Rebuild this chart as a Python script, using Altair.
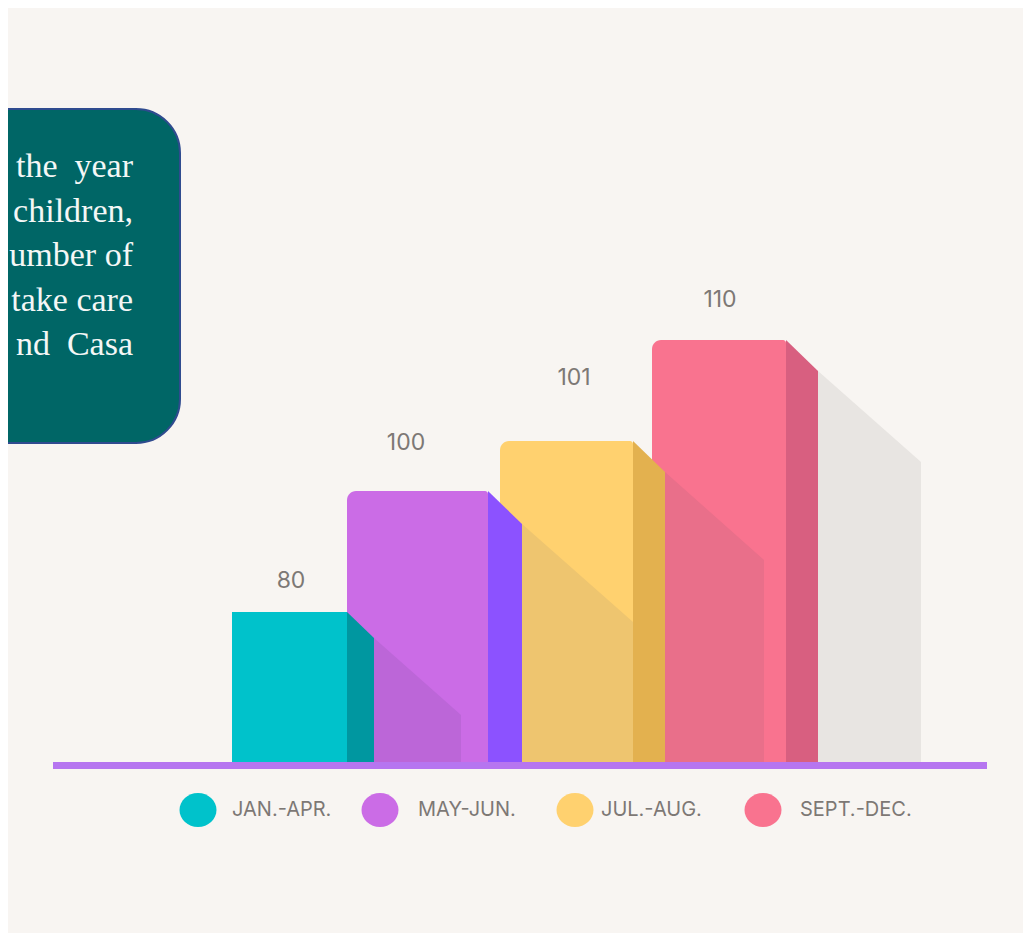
import altair as alt
import numpy as np
import pandas as pd

# ---------- chart values ----------
PERIODS = ["JAN.-APR.", "MAY-JUN.", "JUL.-AUG.", "SEPT.-DEC."]
VALUES = [80, 100, 101, 110]
NOTE_LINES = ["the\u00a0\u00a0year", "children,", "umber of", "take care", "nd\u00a0\u00a0Casa"]

# ---------- styles ----------
BG = "#F8F5F2"
FRONT = ["#00C2CB", "#CB6CE6", "#FFD16F", "#F9738F"]
SIDE = ["#0097A0", "#8C52FF", "#E3B14F", "#D85F80"]
SHADOW = ["#BC66D8", "#EEC56F", "#E96F8A", "#E8E5E2"]
TEXT = "#7D7875"

# ---------- layout (page pixels) ----------
LEFT = [232, 347, 500, 652]
RIGHT = [347, 488, 633, 786]
SIDE_RIGHT = [374, 522, 665, 818]
SIDE_DROP = [26, 33, 31, 31]
SHADOW_RIGHT = [461, 633, 764, 921]
SHADOW_DROP = [103, 131, 119, 122]
RADIUS_L = [0, 9, 9, 9]
RADIUS_R = [0, 3, 3, 3]
LABEL_X = [291, 406, 574, 720]
LABEL_LIFT = [31, 48, 63, 40]
LEGEND_X = [198, 380, 575, 763]
LEGEND_TEXT_X = [232, 418, 601, 800]
BAR_BASE_PX = 762
PAGE_W, PAGE_H = 1015, 925

# The drawing is not proportional: the y scale is piecewise through the values.
KNOT_PX = [933, 762, 612, 491, 441, 340, 8]
KNOT_V = [-91.2, 0, 80, 100, 101, 110, 139.6]


def v_at(px):
    return float(np.interp(-px, [-p for p in KNOT_PX], KNOT_V))


def px_of(value):
    return float(np.interp(value, KNOT_V, KNOT_PX))


X = alt.Scale(domain=[8, 8 + PAGE_W], range=[0, PAGE_W])
Y = alt.Scale(domain=KNOT_V, range=[p - 8 for p in KNOT_PX])
xe = alt.X("x:Q", scale=X, axis=None)
ye = alt.Y("y:Q", scale=Y, axis=None)


def rect(x, x2, y, y2, color, **kw):
    d = pd.DataFrame({"x": [x], "x2": [x2], "y": [y], "y2": [y2]})
    return alt.Chart(d).mark_rect(color=color, **kw).encode(
        x=xe, x2="x2:Q", y=ye, y2="y2:Q"
    )


def poly(xs, tops, color):
    d = pd.DataFrame({"x": xs, "y": tops, "y2": [0.0] * len(xs)})
    return alt.Chart(d).mark_area(color=color, interpolate="linear").encode(
        x=xe, y=ye, y2="y2:Q"
    )


def label(x, y, text, size, color, align="center", font="Inter"):
    d = pd.DataFrame({"x": [x], "y": [y], "t": [text]})
    return alt.Chart(d).mark_text(
        fontSize=size, color=color, align=align, baseline="middle", font=font
    ).encode(x=xe, y=ye, text="t:N")


layers = []

# note box, running off the left edge of the page
layers.append(
    rect(-40, 180, v_at(109), v_at(443), "#006666", stroke="#2F4B8F", strokeWidth=2, cornerRadius=44)
)
for i, line in enumerate(NOTE_LINES):
    layers.append(label(133, v_at(167 + i * 44.5), line, 34, "#F4F7F6", "right", "Liberation Serif"))

# bars, back to front
for i in [3, 2, 1, 0]:
    top_px = px_of(VALUES[i])
    layers.append(
        poly(
            [SIDE_RIGHT[i], SHADOW_RIGHT[i]],
            [v_at(top_px + SIDE_DROP[i]), v_at(top_px + SHADOW_DROP[i])],
            SHADOW[i],
        )
    )
    kw = {}
    if RADIUS_L[i]:
        kw = {"cornerRadiusTopLeft": RADIUS_L[i], "cornerRadiusTopRight": RADIUS_R[i]}
    layers.append(rect(LEFT[i], RIGHT[i], VALUES[i], 0, FRONT[i], **kw))
    layers.append(
        poly([RIGHT[i], SIDE_RIGHT[i]], [VALUES[i], v_at(top_px + SIDE_DROP[i])], SIDE[i])
    )
    layers.append(label(LABEL_X[i], v_at(top_px - LABEL_LIFT[i]), str(VALUES[i]), 23, TEXT))

# baseline
layers.append(rect(53, 987, v_at(BAR_BASE_PX), v_at(769), "#B675F0"))

# legend
OVAL = "M-1,0A1,0.92,0,1,1,1,0A1,0.92,0,1,1,-1,0Z"
for i, name in enumerate(PERIODS):
    d = pd.DataFrame({"x": [LEGEND_X[i]], "y": [v_at(810)]})
    layers.append(
        alt.Chart(d)
        .mark_point(shape=OVAL, size=1369, filled=True, color=FRONT[i], opacity=1)
        .encode(x=xe, y=ye)
    )
    layers.append(label(LEGEND_TEXT_X[i], v_at(810), name, 20, TEXT, "left"))

chart = (
    alt.layer(*layers)
    .properties(
        width=PAGE_W,
        height=PAGE_H,
        background=BG,
        padding=0,
        autosize=alt.AutoSizeParams(type="none"),
    )
    .configure_view(stroke=None)
)

chart.save("out.html", embed_options={"renderer": "svg", "actions": False})
